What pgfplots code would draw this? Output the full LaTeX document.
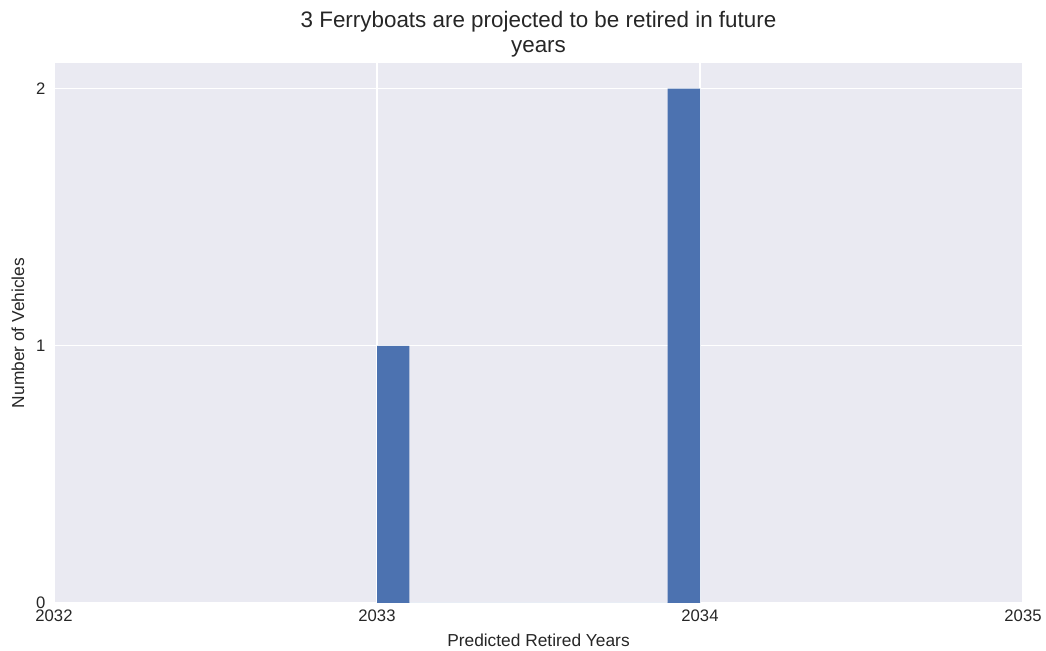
\documentclass[border=0pt]{standalone}
\usepackage{fontspec}
\setmainfont{Liberation Sans}
\usepackage{pgfplots}
\pgfplotsset{compat=1.18}
\definecolor{bg}{HTML}{EAEAF2}
\definecolor{barc}{HTML}{4C72B0}
\definecolor{txt}{HTML}{262626}
\begin{document}
\begin{tikzpicture}
\begin{axis}[
  scale only axis,
  width=726.75pt, height=405pt,
  xmin=2032, xmax=2035, ymin=0, ymax=2.1,
  xtick={2032,2033,2034,2035}, ytick={0,1,2},
  /pgf/number format/assume math mode=true,
  x tick label style={/pgf/number format/1000 sep={}, yshift=-1.5pt},
  y tick label style={xshift=-3pt},
  tick label style={font=\fontsize{12.5}{14}\selectfont, text=txt},
  grid=major,
  grid style={white, line width=0.9pt},
  axis background/.style={fill=bg},
  axis line style={draw=none},
  tick style={draw=none},
  xtick pos=bottom, ytick pos=left,
  title={3 Ferryboats are projected to be retired in future\\years},
  title style={font=\fontsize{16.8}{19}\selectfont, align=center, text=txt,
    at={(axis description cs:0.5,1.039)}, anchor=center},
  xlabel={Predicted Retired Years},
  ylabel={Number of Vehicles},
  xlabel style={at={(axis description cs:0.5,-0.0685)}, anchor=center},
  ylabel style={at={(axis description cs:-0.0372,0.5)}, anchor=center},
  label style={font=\fontsize{13}{15}\selectfont, text=txt},
]
\addplot[ybar interval, fill=barc, draw=none] coordinates {(2033,1) (2033.1,0) (2033.9,2) (2034.0,0)};
\end{axis}
\path ([xshift=-40.5pt,yshift=-36pt]current axis.south west) rectangle ([xshift=17.25pt,yshift=47.25pt]current axis.north east);
\end{tikzpicture}
\end{document}
